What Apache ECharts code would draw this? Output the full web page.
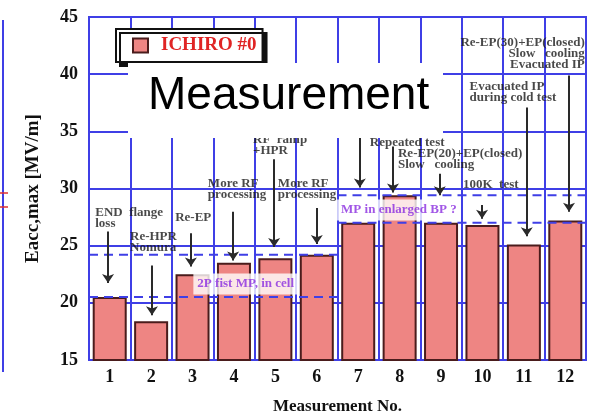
<!DOCTYPE html>
<html>
<head>
<meta charset="utf-8">
<script src="https://cdn.jsdelivr.net/npm/echarts@6/dist/echarts.min.js"></script>
<style>
html,body{margin:0;padding:0;background:#fff;}
#c{width:597px;height:420px;}
</style>
</head>
<body>
<div id="c"></div>
<script>
// ---- data ----
const categories = ['1','2','3','4','5','6','7','8','9','10','11','12'];
const eaccMax = [20.5, 18.4, 22.5, 23.5, 23.9, 24.2, 27.0, 29.4, 27.0, 26.8, 25.1, 27.2];
const seriesName = 'ICHIRO #0';
const yMin = 15, yMax = 45, yStep = 5;

// annotation notes (measurement-number / Eacc units)
const noteTexts = [
  'END  flange\nloss',
  'Re-HPR\nNomura',
  'Re-EP',
  'More RF\nprocessing',
  'RF  ramp\n+HPR',
  'More RF\nprocessing',
  '',
  'Repeated test',
  'Re-EP(20)+EP(closed)\nSlow   cooling',
  '100K  test',
  'Evacuated IP\nduring cold test',
  'Re-EP(30)+EP(closed)\nSlow   cooling\nEvacuated IP'
];
const noteX    = [0.65, 1.49, 2.58, 3.37, 4.46, 5.06, 7.0, 7.28, 7.96, 9.53, 9.69, 12.47];
const noteTop  = [28.4, 26.25, 27.96, 30.94, 34.78, 30.94, 34.0, 34.52, 33.5, 30.86, 39.38, 43.22];
const arrowX    = [0.96, 2.02, 2.96, 3.98, 4.97, 6.0, 7.04, 7.84, 8.97, 9.99, 11.07, 12.09];
const arrowFrom = [26.25, 23.27, 26.08, 27.96, 32.56, 28.3, 35.4, 33.67, 31.28, 28.55, 37.08, 39.89];
const arrowTo   = [21.73, 18.92, 23.18, 23.70, 24.89, 25.14, 30.09, 29.66, 29.41, 27.36, 25.83, 27.96];

// dashed reference levels
const refLevels = [24.2, 20.5, 27.0, 29.4];
const refFrom   = [0.5, 0.5, 6.5, 6.5];
const refTo     = [6.5, 6.5, 12.5, 12.5];
const refLabels = ['2P fist MP, in cell', 'MP in enlarged BP ?'];
const refLabelX = [3.02, 6.49];
const refLabelY = [21.65, 28.13];

const overlayTitle = 'Measurement';

// ---- chart ----
const chart = echarts.init(document.getElementById('c'), null, {renderer:'canvas'});
const serif = 'Liberation Serif';
const blue = '#3f3fe6';

const series = [];
series.push({
  name: seriesName,
  type: 'bar',
  data: eaccMax,
  barWidth: 34,
  itemStyle: {color: '#ee8583', borderColor: '#4a1c1c', borderWidth: 2},
  z: 2
});
refLevels.forEach((lv, i) => {
  series.push({
    type: 'line', xAxisIndex: 1, yAxisIndex: 0,
    data: [[refFrom[i], lv], [refTo[i], lv]],
    symbol: 'none', silent: true,
    lineStyle: {color: blue, width: 2, type: [9, 6]},
    z: 3
  });
});
series.push({
  type: 'lines', coordinateSystem: 'cartesian2d', xAxisIndex: 1, yAxisIndex: 0,
  data: arrowX.map((x, i) => ({coords: [[x, arrowFrom[i]], [x, arrowTo[i]]]})),
  symbol: ['none', 'arrow'], symbolSize: [0, 9],
  lineStyle: {color: '#2a2a2a', width: 2, opacity: 1},
  z: 4
});
series.push({
  type: 'scatter', xAxisIndex: 1, yAxisIndex: 0,
  symbolSize: 0, silent: true,
  data: noteTexts.map((t, i) => ({
    value: [noteX[i], noteTop[i]], name: t,
    label: {align: i === noteTexts.length - 1 ? 'right' : 'left'}
  })),
  label: {
    show: true, position: [0, 0], verticalAlign: 'top',
    formatter: p => p.name,
    color: '#1a1a1a', fontFamily: serif, fontWeight: 'bold', fontSize: 13, lineHeight: 11
  },
  z: 5
});
series.push({
  type: 'scatter', xAxisIndex: 1, yAxisIndex: 0,
  symbolSize: 0, silent: true,
  data: refLabels.map((t, i) => ({value: [refLabelX[i], refLabelY[i]], name: t})),
  label: {
    show: true, position: [0, 0], align: 'left', verticalAlign: 'middle',
    formatter: p => p.name,
    color: '#8a2ce0', fontFamily: serif, fontWeight: 'bold', fontSize: 13,
    backgroundColor: '#fff', padding: [4, 4, 4, 4]
  },
  z: 6
});

chart.setOption({
  animation: false,
  backgroundColor: '#fff',
  grid: {left: 89, right: 11, top: 17, bottom: 51, show: true, borderColor: blue, borderWidth: 2, backgroundColor: 'transparent'},
  legend: {
    data: [seriesName], left: 116, top: 29,
    icon: 'rect', itemWidth: 15, itemHeight: 14,
    padding: [7, 6, 7, 16],
    backgroundColor: '#fff', borderColor: '#111', borderWidth: 2,
    shadowColor: '#111', shadowOffsetX: 4, shadowOffsetY: 4, shadowBlur: 0,
    textStyle: {color: '#e02424', fontFamily: serif, fontWeight: 'bold', fontSize: 19, padding: [0, 0, 0, 8]}
  },
  xAxis: [{
    type: 'category', data: categories,
    axisLine: {lineStyle: {color: blue, width: 2}},
    axisTick: {show: false},
    axisLabel: {color: '#111', fontFamily: serif, fontWeight: 'bold', fontSize: 18, margin: 8},
    splitLine: {show: true, lineStyle: {color: blue, width: 2}},
    name: 'Measurement No.', nameLocation: 'middle', nameGap: 38,
    nameTextStyle: {color: '#111', fontFamily: serif, fontWeight: 'bold', fontSize: 17}
  }, {
    type: 'value', min: 0.5, max: 12.5, show: false
  }],
  yAxis: {
    type: 'value', min: yMin, max: yMax, interval: yStep,
    axisLine: {show: true, lineStyle: {color: blue, width: 2}},
    axisTick: {show: false},
    axisLabel: {color: '#111', fontFamily: serif, fontWeight: 'bold', fontSize: 18, margin: 11},
    splitLine: {show: true, lineStyle: {color: blue, width: 2}},
    name: 'Eacc,max [MV/m]', nameLocation: 'middle', nameGap: 46, nameRotate: 90,
    nameTextStyle: {color: '#111', fontFamily: serif, fontWeight: 'bold', fontSize: 19}
  },
  series: series,
  graphic: [
    {type: 'line', shape: {x1: 3, y1: 20, x2: 3, y2: 372}, style: {stroke: blue, lineWidth: 2}, z: 1},
    {type: 'line', shape: {x1: 0, y1: 193, x2: 8, y2: 193}, style: {stroke: '#e03030', lineWidth: 1.5}, z: 1},
    {type: 'line', shape: {x1: 0, y1: 207, x2: 8, y2: 207}, style: {stroke: '#e03030', lineWidth: 1.5}, z: 1},
    {type: 'rect', left: 128, top: 63, shape: {width: 315, height: 75}, style: {fill: '#fff'}, z: 100},
    {type: 'text', left: 148, top: 73, style: {text: overlayTitle, fill: '#000', font: '46px "Liberation Sans", Arial, sans-serif'}, z: 101}
  ]
});
</script>
</body>
</html>
